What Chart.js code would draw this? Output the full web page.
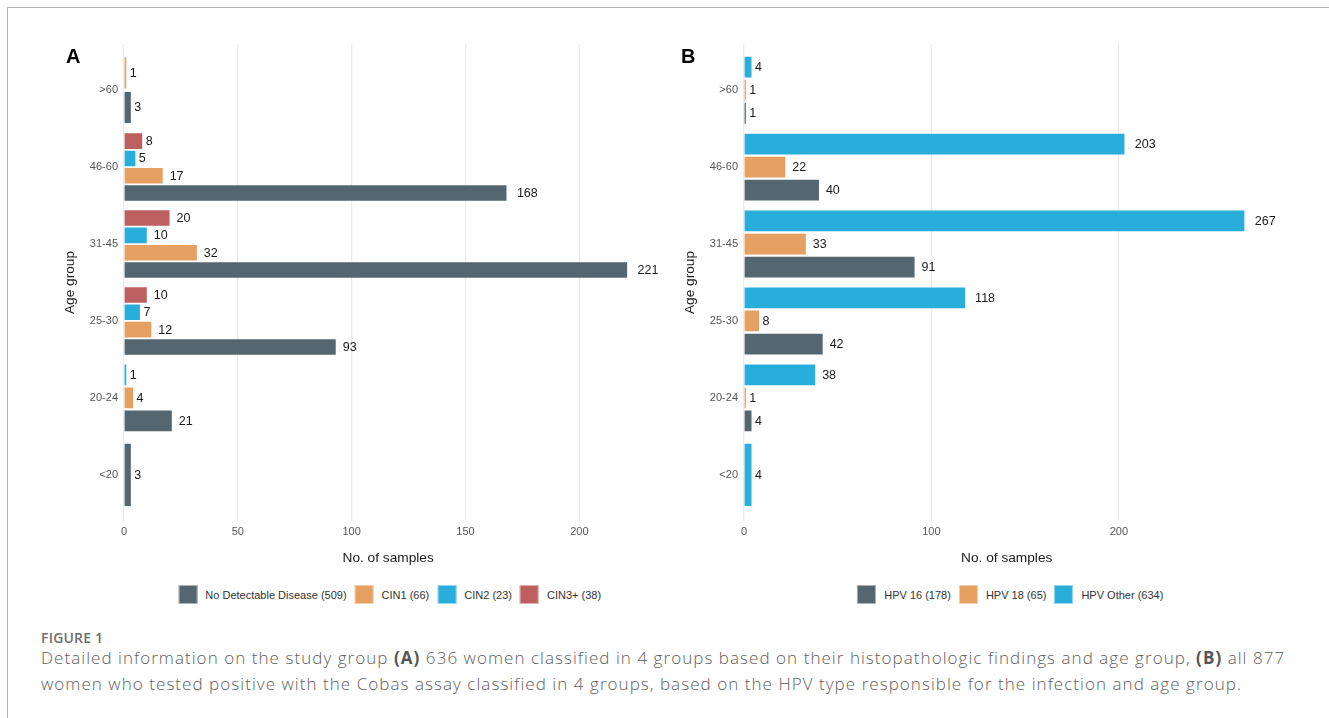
<!DOCTYPE html>
<html>
<head>
<meta charset="utf-8">
<script src="https://cdn.jsdelivr.net/npm/chart.js@4.4.1/dist/chart.umd.min.js"></script>
<style>
  html, body { margin: 0; padding: 0; background: #fff; }
  body { width: 1329px; height: 718px; position: relative; overflow: hidden;
         font-family: "Liberation Sans", Arial, sans-serif; }
  .frame { position: absolute; left: 7px; top: 7px; width: 1340px; height: 720px;
           border-top: 1px solid #b3b3b3; border-left: 1px solid #b3b3b3; }
  .panel { position: absolute; top: 0; }
  .tag { position: absolute; font: bold 20px "Liberation Sans", Arial, sans-serif;
         line-height: 20px; color: #000; }
  .legend { position: absolute; top: 585px; display: flex; align-items: center;
            transform: translateX(-50%); white-space: nowrap;
            font: 11px "Liberation Sans", Arial, sans-serif; color: #333; }
  .legend .it { display: flex; align-items: center; margin-right: 8px; }
  .legend .it:last-child { margin-right: 0; }
  .legend .sw { width: 19px; height: 19px; margin-right: 8px; box-sizing: border-box;
                border: 1px solid rgba(255,255,255,0.5); }
  .cap-head { position: absolute; left: 41px; top: 631px; font: 600 14px "Open Sans", sans-serif;
              line-height: 14px; color: #6e6e6e; letter-spacing: 0.2px; }
  .cap-text { position: absolute; left: 41px; top: 645px; font: 300 17px "Open Sans", sans-serif;
              line-height: 26px; color: #606060; white-space: nowrap; letter-spacing: 1.05px; }
  .cap-text b { font-weight: 700; color: #555; }
</style>
</head>
<body>
<div class="frame"></div>

<div class="panel" style="left:0;width:700px;height:575px;">
  <canvas id="chartA" width="700" height="575"></canvas>
</div>
<div class="panel" style="left:620px;width:709px;height:575px;">
  <canvas id="chartB" width="709" height="575"></canvas>
</div>

<div class="tag" style="left:66px;top:45.5px;">A</div>
<div class="tag" style="left:681px;top:45.5px;">B</div>

<div class="legend" id="legendA" style="left:389.7px;"></div>
<div class="legend" id="legendB" style="left:1010.3px;"></div>

<div class="cap-head">FIGURE 1</div>
<div class="cap-text">Detailed information on the study group <b>(A)</b> 636 women classified in 4 groups based on their histopathologic findings and age group, <b>(B)</b> all 877<br>women who tested positive with the Cobas assay classified in 4 groups, based on the HPV type responsible for the infection and age group.</div>

<script>
// Age groups, listed from the top of the axis downwards
const ageGroups = ['>60', '46-60', '31-45', '25-30', '20-24', '<20'];

// Panel A: histopathologic findings per age group
const noDisease = [3, 168, 221, 93, 21, 3];
const cin1      = [1, 17, 32, 12, 4, null];
const cin2      = [null, 5, 10, 7, 1, null];
const cin3plus  = [null, 8, 20, 10, null, null];

// Panel B: HPV type per age group
const hpv16    = [1, 40, 91, 42, 4, null];
const hpv18    = [1, 22, 33, 8, 1, null];
const hpvOther = [4, 203, 267, 118, 38, 4];

// Tick labels of the value axes
const ticksA = [0, 50, 100, 150, 200];
const ticksB = [0, 100, 200];

const COLORS = {
  slate: '#546670',
  orange: '#E5A062',
  cyan: '#29AEDC',
  red: '#BE5F5F'
};

const FONT = '"Liberation Sans", Arial, sans-serif';

// Numbers written just past the end of every bar
const valueLabels = {
  id: 'valueLabels',
  afterDatasetsDraw(chart) {
    const ctx = chart.ctx;
    ctx.save();
    ctx.font = '12.5px ' + FONT;
    ctx.fillStyle = '#1a1a1a';
    ctx.textBaseline = 'middle';
    ctx.textAlign = 'left';
    chart.data.datasets.forEach((ds, di) => {
      const meta = chart.getDatasetMeta(di);
      meta.data.forEach((bar, i) => {
        const v = ds.data[i].x;
        if (v === null || v === undefined) return;
        const txt = String(v);
        const w = ctx.measureText(txt).width;
        ctx.fillText(txt, bar.x + w * 0.5, bar.y + 0.5);
      });
    });
    ctx.restore();
  }
};

function makeChart(canvasId, series, xMax, xTicks, padRight) {
  // series are listed top-to-bottom inside each age group
  const datasets = series.map(s => ({
    label: s.label,
    data: s.values.map((v, i) => ({ x: v, y: i })),
    backgroundColor: s.color,
    borderWidth: 0,
    skipNull: true,
    categoryPercentage: 0.9,
    barPercentage: 0.9
  }));
  return new Chart(document.getElementById(canvasId), {
    type: 'bar',
    data: { datasets },
    options: {
      indexAxis: 'y',
      responsive: false,
      animation: false,
      events: [],
      layout: { padding: { left: 0, top: 44, right: padRight, bottom: 0 } },
      plugins: { legend: { display: false }, tooltip: { enabled: false } },
      scales: {
        x: {
          type: 'linear',
          bounds: 'data',
          offset: false,
          min: 0,
          max: xMax,
          afterBuildTicks: s => {
            s.ticks = xTicks.map(v => ({ value: v }));
            s.min = 0; s.max = xMax;
          },
          grid: { color: '#ebebeb', lineWidth: 1.2, drawTicks: false },
          border: { display: false },
          ticks: { padding: 4.5, maxRotation: 0, color: '#555',
                   font: { size: 11, family: FONT } },
          title: { display: true, text: 'No. of samples', color: '#1a1a1a',
                   font: { size: 13.7, family: FONT }, padding: { top: 0, bottom: 9 } },
          afterFit: s => { s.height = 54; }
        },
        y: {
          type: 'linear',
          bounds: 'data',
          offset: false,
          reverse: true,
          min: -0.6,
          max: 5.6,
          afterBuildTicks: s => {
            s.ticks = ageGroups.map((_, i) => ({ value: i }));
            s.min = -0.6; s.max = 5.6;
          },
          grid: { display: false, drawTicks: false, offset: false },
          border: { display: false },
          ticks: { padding: 6, color: '#555', font: { size: 11, family: FONT },
                   callback: v => ageGroups[Math.round(v)] },
          title: { display: true, text: 'Age group', color: '#1a1a1a',
                   font: { size: 13.7, family: FONT }, padding: { top: 62, bottom: 0 } },
          afterFit: s => { s.width = 124; }
        }
      }
    },
    plugins: [valueLabels]
  });
}

function buildLegend(el, chart) {
  // legend lists the series in reverse of their top-to-bottom order
  const items = chart.data.datasets.slice().reverse();
  el.innerHTML = items.map(ds =>
    '<div class="it"><div class="sw" style="background:' + ds.backgroundColor +
    '"></div><span>' + ds.label + '</span></div>').join('');
}

const chartA = makeChart('chartA', [
  { label: 'CIN3+ (38)', values: cin3plus, color: COLORS.red },
  { label: 'CIN2 (23)', values: cin2, color: COLORS.cyan },
  { label: 'CIN1 (66)', values: cin1, color: COLORS.orange },
  { label: 'No Detectable Disease (509)', values: noDisease, color: COLORS.slate }
], 232.05, ticksA, 47.7);

const chartB = makeChart('chartB', [
  { label: 'HPV Other (634)', values: hpvOther, color: COLORS.cyan },
  { label: 'HPV 18 (65)', values: hpv18, color: COLORS.orange },
  { label: 'HPV 16 (178)', values: hpv16, color: COLORS.slate }
], 280.35, ticksB, 59.6);

buildLegend(document.getElementById('legendA'), chartA);
buildLegend(document.getElementById('legendB'), chartB);
</script>
</body>
</html>
